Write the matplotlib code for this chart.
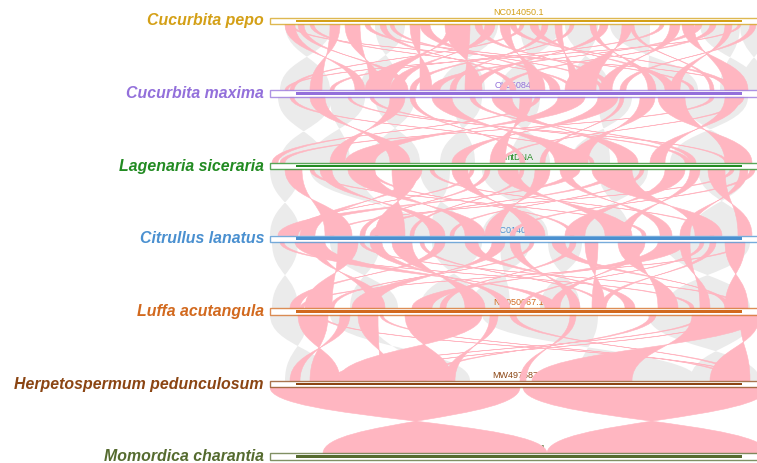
import matplotlib

matplotlib.use("Agg")
import matplotlib.pyplot as plt
from matplotlib.patches import PathPatch, Rectangle
from matplotlib.path import Path

plt.rcParams.update({"font.family": ["Liberation Sans", "DejaVu Sans"]})

# genomes, top to bottom
SPECIES = [
    "Cucurbita pepo",
    "Cucurbita maxima",
    "Lagenaria siceraria",
    "Citrullus lanatus",
    "Luffa acutangula",
    "Herpetospermum pedunculosum",
    "Momordica charantia",
]
SEQ_IDS = ["NC014050.1", "OL350844.1", "mtDNA", "NC014043.1", "NC050067.1", "MW497587.1", "MW497588.1"]
COLORS = ["#d4a017", "#9370db", "#228b22", "#4a90d0", "#d2691e", "#8b4513", "#556b2f"]

# scaled coordinates (same for every genome)
GENOME_LEN = 498
CORE_START = 26
CORE_END = 472

# links between neighbouring genomes: (upper start, upper end, lower start, lower end)
# high-identity blocks
HI_PEPO_MAXIMA = [
    (175, 200, 195, 212), (178, 188, 95, 120), (352, 362, 295, 326), (412, 424, 455, 478),
    (20, 23, 470, 473), (468, 471, 15, 18), (40, 44, 300, 304), (95, 100, 420, 424),
    (120, 124, 330, 334), (250, 254, 20, 24), (300, 304, 140, 146), (390, 394, 60, 64),
    (440, 446, 230, 236), (60, 70, 40, 52), (140, 150, 150, 162), (230, 240, 260, 275),
    (320, 326, 378, 386), (455, 462, 400, 410), (205, 212, 335, 342), (272, 278, 180, 186),
    (110, 116, 240, 246), (360, 364, 440, 444), (28, 34, 130, 138), (480, 486, 350, 356),
    (75, 90, 100, 112), (150, 160, 280, 290), (215, 225, 120, 132), (260, 268, 395, 405),
    (285, 292, 300, 310), (330, 338, 200, 210), (400, 410, 330, 342), (425, 432, 160, 170),
    (15, 25, 85, 95), (240, 246, 455, 462),
]
HI_MAXIMA_LAGENARIA = [
    (162, 182, 285, 312), (288, 315, 75, 105), (388, 415, 455, 482), (222, 242, 348, 368),
    (328, 348, 182, 195), (78, 81, 455, 458), (265, 270, 2, 8), (440, 444, 10, 15),
    (100, 104, 415, 420), (20, 24, 320, 324), (470, 474, 230, 234), (200, 205, 420, 426),
    (350, 354, 270, 275), (40, 55, 120, 140), (120, 135, 60, 75), (250, 262, 220, 235),
    (370, 385, 300, 318), (455, 470, 380, 395), (140, 145, 250, 255),
]
HI_LAGENARIA_CITRULLUS = [
    (122, 148, 105, 135), (78, 105, 195, 215), (322, 362, 425, 452), (182, 198, 255, 275),
    (15, 32, 55, 82), (228, 248, 335, 362), (395, 415, 295, 315), (438, 455, 468, 482),
    (300, 310, 8, 28), (40, 44, 372, 376), (460, 464, 60, 64), (250, 254, 140, 144),
    (100, 104, 300, 304), (370, 374, 180, 184), (160, 164, 440, 444), (480, 485, 240, 245),
    (200, 204, 20, 24), (50, 62, 160, 175), (140, 152, 30, 45), (265, 280, 215, 230),
    (290, 300, 390, 402), (340, 348, 100, 108), (420, 430, 350, 360), (470, 478, 410, 420),
    (215, 220, 90, 95),
]
HI_CITRULLUS_LUFFA = [
    (68, 88, 35, 62), (122, 142, 195, 215), (222, 235, 82, 105), (315, 328, 322, 335),
    (348, 368, 388, 408), (388, 415, 142, 162), (25, 55, 275, 288), (455, 475, 455, 478),
    (195, 208, 355, 365), (282, 295, 455, 460), (10, 14, 420, 424), (470, 474, 30, 34),
    (150, 154, 330, 334), (260, 264, 60, 64), (430, 434, 250, 254), (90, 94, 470, 474),
    (40, 50, 100, 115), (100, 112, 230, 240), (165, 175, 20, 30), (240, 250, 300, 310),
    (300, 306, 170, 176), (365, 375, 280, 290), (410, 420, 430, 440), (440, 446, 330, 336),
]
HI_LUFFA_HERPETO = [
    (135, 212, 68, 182), (422, 490, 262, 362), (28, 58, 40, 70), (88, 108, 110, 125),
    (50, 53, 475, 478), (455, 458, 100, 103), (110, 113, 460, 464), (430, 434, 60, 64),
    (470, 490, 440, 480), (220, 228, 175, 185), (70, 80, 20, 30), (300, 306, 250, 256),
    (380, 386, 150, 156), (240, 246, 470, 476),
]
HI_HERPETO_MOMORDICA = [(0, 250, 53, 277), (253, 498, 277, 498)]

# low-identity blocks
LO_PEPO_MAXIMA = [
    (15, 62, 10, 60), (105, 135, 90, 130), (182, 228, 170, 215), (250, 290, 230, 270),
    (295, 328, 300, 340), (340, 380, 378, 428), (430, 470, 450, 490), (470, 498, 470, 498),
]
LO_MAXIMA_LAGENARIA = [
    (8, 62, 10, 55), (105, 145, 100, 150), (182, 212, 170, 205), (230, 270, 240, 280),
    (328, 362, 300, 340), (412, 478, 400, 470), (60, 95, 40, 80),
]
LO_LAGENARIA_CITRULLUS = [
    (0, 30, 0, 30), (40, 90, 128, 162), (212, 278, 212, 278), (328, 378, 310, 360),
    (428, 478, 420, 480), (150, 180, 160, 195),
]
LO_CITRULLUS_LUFFA = [
    (2, 28, 2, 28), (60, 110, 80, 128), (162, 212, 150, 210), (278, 312, 270, 310),
    (395, 480, 395, 480), (230, 260, 200, 240),
]
LO_LUFFA_HERPETO = [
    (0, 38, 15, 62), (212, 328, 308, 428), (378, 485, 420, 490), (60, 100, 150, 200),
]
LO_HERPETO_MOMORDICA = []

HIGH = [HI_PEPO_MAXIMA, HI_MAXIMA_LAGENARIA, HI_LAGENARIA_CITRULLUS,
        HI_CITRULLUS_LUFFA, HI_LUFFA_HERPETO, HI_HERPETO_MOMORDICA]
LOW = [LO_PEPO_MAXIMA, LO_MAXIMA_LAGENARIA, LO_LAGENARIA_CITRULLUS,
       LO_CITRULLUS_LUFFA, LO_LUFFA_HERPETO, LO_HERPETO_MOMORDICA]

PINK = "#ffb6c1"
GREY = "#ebebeb"
HALF_H = 0.045  # half height of a genome frame, in row units


def ribbon(x1a, x1b, x2a, x2b, y1, y2):
    """Band between two genomes, drawn reversed so it twists in the middle."""
    k = 0.5 * (y2 - y1)
    verts = [
        (x1a, y1), (x1a, y1 + k), (x2b, y2 - k), (x2b, y2),
        (x2a, y2),
        (x2a, y2 - k), (x1b, y1 + k), (x1b, y1),
        (x1a, y1),
    ]
    codes = [Path.MOVETO, Path.CURVE4, Path.CURVE4, Path.CURVE4,
             Path.LINETO,
             Path.CURVE4, Path.CURVE4, Path.CURVE4,
             Path.CLOSEPOLY]
    return Path(verts, codes)


fig = plt.figure(figsize=(7.57, 4.63), dpi=100)
ax = fig.add_axes([270 / 757, 0, 487 / 757, 1])
ax.set_xlim(0, 487)
ax.set_ylim(6.088, -0.289)
ax.axis("off")

for i in range(len(SPECIES) - 1):
    y1 = i + HALF_H
    y2 = i + 1 - HALF_H
    for link in LOW[i]:
        ax.add_patch(PathPatch(ribbon(*link, y1, y2), facecolor=GREY,
                               edgecolor="none", zorder=1))
    for link in HIGH[i]:
        ax.add_patch(PathPatch(ribbon(*link, y1, y2), facecolor=PINK,
                               edgecolor=PINK, linewidth=0.4, zorder=2))

for i, (name, seq, color) in enumerate(zip(SPECIES, SEQ_IDS, COLORS)):
    ax.add_patch(Rectangle((0, i - HALF_H), GENOME_LEN, 2 * HALF_H, facecolor="white",
                           edgecolor=color, alpha=0.75, linewidth=1.0, zorder=3, clip_on=False))
    ax.add_patch(Rectangle((CORE_START, i - 0.018), CORE_END - CORE_START, 0.036,
                           facecolor=color, edgecolor="none", zorder=4))
    ax.text((CORE_START + CORE_END) / 2, i - HALF_H - 0.01, seq, ha="center", va="bottom",
            fontsize=6.5, color=color, zorder=1.5)
    ax.text(-6, i, name, ha="right", va="center", fontsize=11.4, fontweight="bold",
            fontstyle="italic", color=color, clip_on=False)

fig.savefig("out.png", dpi=100)
